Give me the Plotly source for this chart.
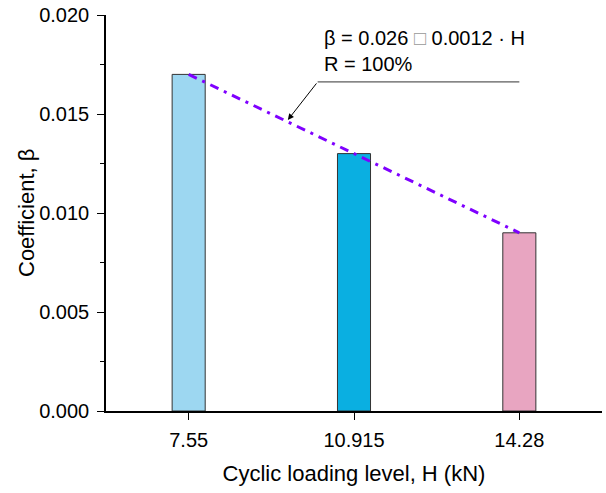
import plotly.graph_objects as go

categories = ["7.55", "10.915", "14.28"]
beta_values = [0.017, 0.013, 0.009]
bar_colors = ["#9dd7f1", "#0aafe1", "#e8a5c1"]
y_ticks = [0.000, 0.005, 0.010, 0.015, 0.020]
y_tick_labels = ["0.000", "0.005", "0.010", "0.015", "0.020"]
fit_text = "β = 0.026 <span style='color:#999999'>□</span> 0.0012 · H<br>R = 100%"

FONT = "Liberation Sans, Arial, sans-serif"
idx = list(range(len(categories)))

W, H = 606, 493
ML, MR, MT, MB = 106, 4, 15, 82
PW, PH = W - ML - MR, H - MT - MB

fig = go.Figure()
fig.add_trace(go.Bar(
    x=idx, y=beta_values, width=0.2,
    marker=dict(color=bar_colors, line=dict(color="#333333", width=1)),
    showlegend=False,
))
fig.add_trace(go.Scatter(
    x=idx, y=beta_values, mode="lines",
    line=dict(color="#7f00ff", width=3, dash="9px,6px,3px,6px"),
    showlegend=False,
))

fig.add_shape(type="line", xref="x", yref="y", x0=0.78, x1=2.0, y0=0.01662, y1=0.01662,
              line=dict(color="#333333", width=1))
fig.add_annotation(x=0.6, y=0.0147, ax=0.78, ay=0.01662, axref="x", ayref="y",
                   xref="x", yref="y", text="", showarrow=True,
                   arrowhead=2, arrowsize=1.2, arrowwidth=1, arrowcolor="#000000")
fig.add_annotation(x=0.805, y=0.0182, xref="x", yref="y", xanchor="left", yanchor="middle",
                   align="left", text=fit_text, showarrow=False,
                   font=dict(family=FONT, size=20, color="#000000"))
fig.add_annotation(x=(26 - ML) / PW, y=0.5, xref="paper", yref="paper",
                   xanchor="center", yanchor="middle",
                   text="Coefficient, β", textangle=-90, showarrow=False,
                   font=dict(family=FONT, size=22, color="#000000"))

fig.update_layout(
    width=W, height=H,
    margin=dict(l=ML, r=MR, t=MT, b=MB),
    paper_bgcolor="white", plot_bgcolor="white",
    font=dict(family=FONT, size=20, color="#000000"),
    xaxis=dict(
        range=[-0.5, 2.5], tickmode="array", tickvals=idx, ticktext=categories,
        showline=True, linecolor="#000000", linewidth=1.5,
        ticks="outside", ticklen=7, tickcolor="#000000", ticklabelstandoff=3,
        showgrid=False, zeroline=False,
        title=dict(text="Cyclic loading level, H (kN)", standoff=16, font=dict(size=22)),
    ),
    yaxis=dict(
        range=[0, 0.020], tickmode="array", tickvals=y_ticks, ticktext=y_tick_labels,
        showline=True, linecolor="#000000", linewidth=1.5,
        ticks="outside", ticklen=7, tickcolor="#000000", ticklabelstandoff=4,
        minor=dict(ticks="outside", ticklen=4, dtick=0.0025, tickcolor="#000000", showgrid=False),
        showgrid=False, zeroline=False,
    ),
)

fig.write_html("out.html", post_script="document.body.style.margin='0px';",
               config={"displayModeBar": False})
